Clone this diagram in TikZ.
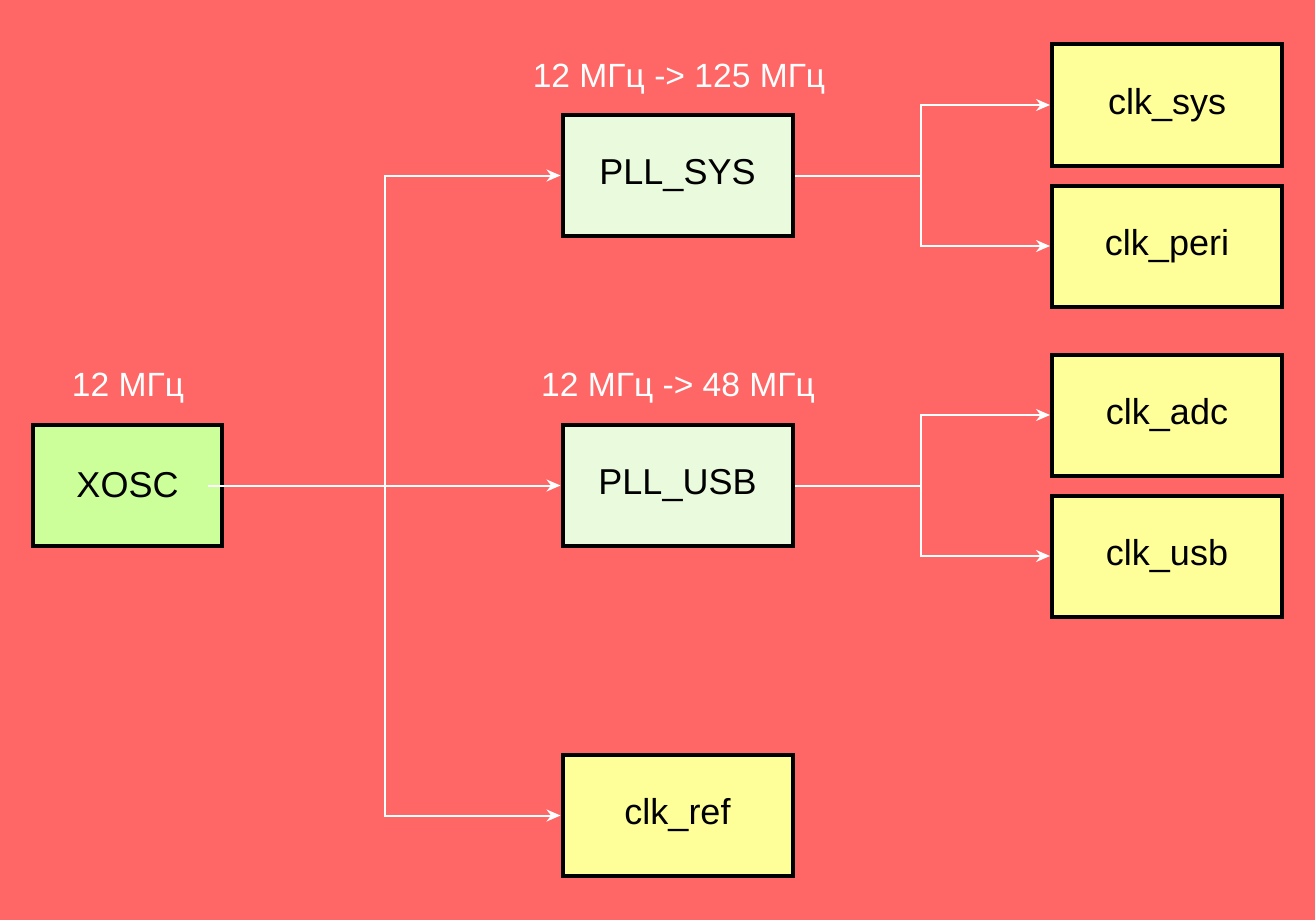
\documentclass[tikz,border=0pt]{standalone}
\usepackage{fontspec}
\setmainfont{Liberation Sans}
\usepackage{tikz}
\usetikzlibrary{calc}
\usetikzlibrary{arrows.meta,positioning}
\definecolor{bgred}{RGB}{255,102,102}
\definecolor{xoscgreen}{RGB}{204,255,153}
\definecolor{pllgreen}{RGB}{234,250,220}
\definecolor{clkyellow}{RGB}{255,255,153}

\begin{document}
\begin{tikzpicture}[x=0.5pt,y=-0.5pt,
        box/.style={draw=black,line width=2pt,minimum width=115pt,minimum height=60.5pt,inner sep=0pt,font=\fontsize{18}{20}\selectfont},
        pll/.style={box,fill=pllgreen},
        clk/.style={box,fill=clkyellow},
        freq/.style={text=white,inner sep=0pt,font=\fontsize{16.8}{19}\selectfont},
        wire/.style={draw=white,line width=1pt},
        arr/.style={wire,-{Stealth[length=7pt,width=6pt]}}]
        \fill[bgred] (0,0) rectangle (1315,920);
        \useasboundingbox (0,0) rectangle (1315,920);

        \node[box,fill=xoscgreen,minimum width=94.5pt] (xosc) at (127.5,485.5) {XOSC};
        \node[pll] (pllsys) at (677.5,175.5) {PLL\_SYS};
        \node[pll] (pllusb) at (677.5,485.5) {PLL\_USB};
        \node[clk] (clkref) at (677.5,815.5) {clk\_ref};
        \node[clk] (clksys) at (1167,105) {clk\_sys};
        \node[clk,below=8pt of clksys] (clkperi) {clk\_peri};
        \node[clk] (clkadc) at (1167,415) {clk\_adc};
        \node[clk,below=8pt of clkadc] (clkusb) {clk\_usb};

        \node[freq] (fxosc) at (128,388) {12 МГц};
        \node[freq] (fsys) at (679,79) {12 МГц -> 125 МГц};
        \node[freq] (fusb) at (678,388) {12 МГц -> 48 МГц};

        \coordinate (xout) at ([xshift=-8pt]xosc.east);
        \coordinate (split) at (385,485.5);
        \coordinate (sysfork) at (921,175.5);
        \coordinate (usbfork) at (921,485.5);

        \draw[wire] (xout) -- (split);
        \draw[arr] (split) |- (pllsys.west);
        \draw[arr] (split) -- (pllusb.west);
        \draw[arr] (split) |- (clkref.west);
        \draw[wire] (pllsys.east) -- (sysfork);
        \draw[arr] (sysfork) |- (clksys.west);
        \draw[arr] (sysfork) |- (clkperi.west);
        \draw[wire] (pllusb.east) -- (usbfork);
        \draw[arr] (usbfork) |- (clkadc.west);
        \draw[arr] (usbfork) |- (clkusb.west);
      \end{tikzpicture}
\end{document}
